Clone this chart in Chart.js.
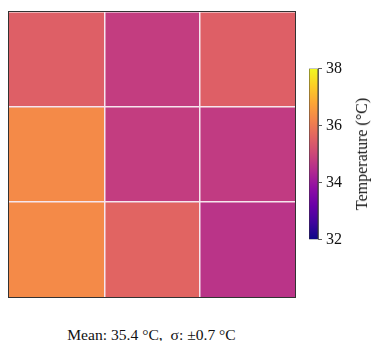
<!DOCTYPE html>
<html>
<head>
<meta charset="utf-8">
<script src="https://cdn.jsdelivr.net/npm/chart.js@4"></script>
<style>
  body { margin: 0; background: #fff; width: 372px; height: 341px; position: relative; overflow: hidden;
         font-family: "Liberation Serif", "DejaVu Serif", serif; }
  #heatBox { position: absolute; left: 8px; top: 11px; width: 286px; height: 285px; border: 1px solid #333; }
  #heatBox canvas { display: block; }
  #barBox { position: absolute; left: 300px; top: 55px; width: 60px; height: 198px; }
  #cbLabel { position: absolute; left: 362px; top: 154px; transform: translate(-50%, -50%) rotate(-90deg);
             font-size: 16px; white-space: nowrap; color: #111; }
  #stats { position: absolute; left: 0; width: 303px; top: 326px; text-align: center; font-size: 15.6px; color: #111; }
</style>
</head>
<body>
<div id="heatBox"><canvas id="heatmap"></canvas></div>
<div id="barBox"><canvas id="colorbar"></canvas></div>
<div id="cbLabel">Temperature (°C)</div>
<div id="stats">Mean: 35.4 °C,&nbsp; σ: ±0.7 °C</div>
<script>
// Données de la grille (°C), ligne du haut en premier
const columns = ['C1', 'C2', 'C3'];
const row1 = [35.5, 34.8, 35.5];
const row2 = [36.3, 34.8, 34.75];
const row3 = [36.3, 35.6, 34.6];
const rows = [row1, row2, row3];
const rowLabels = ['R1', 'R2', 'R3'];
const tempMin = 32;
const tempMax = 38;
const cbTicks = [32, 34, 36, 38];

// Palette "plasma"
const plasma = ['#0d0887', '#41049d', '#6a00a8', '#8f0da4', '#b12a90', '#cc4778',
                '#e16462', '#f2844b', '#fca636', '#fcce25', '#f0f921'];

function hexToRgb(h) {
  return [parseInt(h.slice(1, 3), 16), parseInt(h.slice(3, 5), 16), parseInt(h.slice(5, 7), 16)];
}

function plasmaColor(v) {
  let t = (v - tempMin) / (tempMax - tempMin);
  t = Math.max(0, Math.min(1, t));
  const pos = t * (plasma.length - 1);
  const i = Math.min(Math.floor(pos), plasma.length - 2);
  const f = pos - i;
  const a = hexToRgb(plasma[i]), b = hexToRgb(plasma[i + 1]);
  const c = a.map((x, k) => Math.round(x + (b[k] - x) * f));
  return `rgb(${c[0]}, ${c[1]}, ${c[2]})`;
}

const cellLine = '#f6e6ee';
const noLine = 'rgba(0,0,0,0)';

// Carte de chaleur : barres empilées de hauteur 1
const heatCanvas = document.getElementById('heatmap');
heatCanvas.width = 286;
heatCanvas.height = 285;
new Chart(heatCanvas, {
  type: 'bar',
  data: {
    labels: columns,
    datasets: rows.map((r, i) => ({
      label: rowLabels[i],
      data: r.map(() => 1),
      backgroundColor: r.map(v => plasmaColor(v)),
      borderWidth: 0,
      barPercentage: 1,
      categoryPercentage: 1
    }))
  },
  options: {
    responsive: false,
    animation: false,
    layout: { padding: 0 },
    plugins: { legend: { display: false }, tooltip: { enabled: false } },
    scales: {
      x: {
        stacked: true,
        ticks: { display: false },
        border: { display: false },
        grid: {
          z: 1,
          offset: true,
          drawTicks: false,
          lineWidth: 1.5,
          color: ctx => (ctx.index === 1 || ctx.index === 2) ? cellLine : noLine
        }
      },
      y: {
        stacked: true,
        reverse: true,
        min: 0,
        max: 3,
        ticks: { display: false, stepSize: 1 },
        border: { display: false },
        grid: {
          z: 1,
          drawTicks: false,
          lineWidth: 1.5,
          color: ctx => (ctx.tick && (ctx.tick.value === 1 || ctx.tick.value === 2)) ? cellLine : noLine
        }
      }
    }
  }
});

// Barre de couleur
const cbCanvas = document.getElementById('colorbar');
cbCanvas.width = 60;
cbCanvas.height = 198;
new Chart(cbCanvas, {
  type: 'bar',
  data: {
    labels: [''],
    datasets: [{
      data: [[tempMin, tempMax]],
      backgroundColor: (context) => {
        const area = context.chart.chartArea;
        if (!area) return plasma[5];
        const g = context.chart.ctx.createLinearGradient(0, area.bottom, 0, area.top);
        plasma.forEach((c, i) => g.addColorStop(i / (plasma.length - 1), c));
        return g;
      },
      borderColor: '#333',
      borderWidth: 0.8,
      borderSkipped: false,
      barPercentage: 1,
      categoryPercentage: 1
    }]
  },
  options: {
    responsive: false,
    animation: false,
    layout: { padding: { left: 9, top: 0, bottom: 0, right: 0 } },
    plugins: { legend: { display: false }, tooltip: { enabled: false } },
    scales: {
      x: { display: false },
      y: {
        position: 'right',
        min: tempMin,
        max: tempMax,
        afterBuildTicks: scale => { scale.ticks = cbTicks.map(v => ({ value: v })); },
        afterFit: scale => { scale.width = 42; },
        ticks: { color: '#111', padding: 4, font: { family: 'Liberation Serif', size: 16 } },
        border: { display: true, color: '#333', width: 0.8 },
        grid: { drawOnChartArea: false, drawTicks: true, tickLength: 4, color: '#333', lineWidth: 0.8 }
      }
    }
  }
});
</script>
</body>
</html>
